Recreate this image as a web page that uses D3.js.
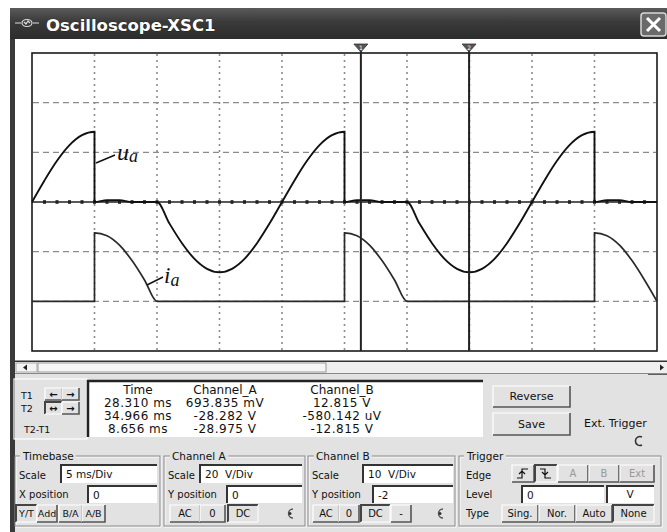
<!DOCTYPE html>
<html>
<head>
<meta charset="utf-8">
<script src="https://cdn.jsdelivr.net/npm/d3@7"></script>
<style>
  html, body { margin: 0; padding: 0; background: #fff; }
  svg { display: block; }
</style>
</head>
<body>
<svg id="scope" width="667" height="532" font-family="DejaVu Sans, sans-serif"></svg>
<script>
// Oscilloscope-XSC1 capture: u_a (channel A) and i_a (channel B)

// time samples in ms (repeated time = vertical jump)
const tMs = [0, 1, 2, 3, 4, 5, 5, 6, 7, 8, 9, 10, 11, 12, 13, 14, 15, 16, 17, 18, 19, 20,
  21, 22, 23, 24, 25, 25, 26, 27, 28, 29, 30, 31, 32, 33, 34, 35, 36, 37, 38, 39, 40,
  41, 42, 43, 44, 45, 45, 46, 47, 48, 49, 50];
// channel A, volts
const uaVolts = [0, 8.7, 16.6, 22.9, 26.9, 28.3, 0, 0.7, 0.7, 0, 0, 0, -8.7, -16.6, -22.9, -26.9, -28.3, -26.9, -22.9, -16.6, -8.7, 0,
  8.7, 16.6, 22.9, 26.9, 28.3, 0, 0.7, 0.7, 0, 0, 0, -8.7, -16.6, -22.9, -26.9, -28.3, -26.9, -22.9, -16.6, -8.7, 0,
  8.7, 16.6, 22.9, 26.9, 28.3, 0, 0.7, 0.7, 0, 0, 0];
// channel B, volts
const iaVolts = [0, 0, 0, 0, 0, 0, 13.8, 13.2, 11.3, 8.2, 4.3, 0, 0, 0, 0, 0, 0, 0, 0, 0, 0, 0,
  0, 0, 0, 0, 0, 13.8, 13.2, 11.3, 8.2, 4.3, 0, 0, 0, 0, 0, 0, 0, 0, 0, 0, 0,
  0, 0, 0, 0, 0, 13.8, 13.2, 11.3, 8.2, 4.3, 0];

const timeDivMs = 5, timeDivs = 10;
const chADiv = 20, chBDiv = 10, chBPos = -2, vDivs = 6;
const cursorMs = [26.310, 34.966];

const readoutHead = ["Time", "Channel_A", "Channel_B"];
const readoutRows = [
  ["28.310 ms", "693.835 mV", "12.815 V"],
  ["34.966 ms", "-28.282 V", "-580.142 uV"],
  ["8.656 ms", "-28.975 V", "-12.815 V"]
];

const svg = d3.select("#scope");
const W = 667, H = 532;
const panel = "#e2e2e2";
const serif = "Liberation Serif, DejaVu Serif, serif";

// ---------- window chrome ----------
svg.append("rect").attr("width", W).attr("height", H).attr("fill", "#fff");
svg.append("rect").attr("x", 10).attr("y", 8).attr("width", W - 10).attr("height", H - 8).attr("fill", panel);

const defs = svg.append("defs");
const tg = defs.append("linearGradient").attr("id", "titleGrad").attr("x1", 0).attr("y1", 0).attr("x2", 0).attr("y2", 1);
tg.append("stop").attr("offset", "0%").attr("stop-color", "#5a5a5a");
tg.append("stop").attr("offset", "45%").attr("stop-color", "#3a3a3a");
tg.append("stop").attr("offset", "100%").attr("stop-color", "#2c2c2c");

svg.append("rect").attr("x", 10).attr("y", 8).attr("width", W - 10).attr("height", 31).attr("fill", "url(#titleGrad)");
svg.append("rect").attr("x", 10).attr("y", 39).attr("width", 5).attr("height", H - 39).attr("fill", "#3a3a3a");

// title icon (little probe glyph)
const icon = svg.append("g").attr("transform", "translate(27,23)").attr("stroke", "#ddd").attr("fill", "none").attr("stroke-width", 1.2);
icon.append("ellipse").attr("rx", 5).attr("ry", 3.5);
icon.append("path").attr("d", "M-12,0 H-6 M6,0 H12 M-3,-1 l2,2 l2,-3 l2,2");

svg.append("text").attr("x", 46).attr("y", 31)
  .attr("fill", "#fff").attr("font-size", 16.5).attr("font-weight", "bold")
  .attr("stroke", "#111").attr("stroke-width", 0.6).attr("paint-order", "stroke")
  .text("Oscilloscope-XSC1");

// close button
const cb = svg.append("g");
cb.append("rect").attr("x", 641).attr("y", 13).attr("width", 25).attr("height", 23).attr("rx", 3)
  .attr("fill", "#6a6a6a").attr("stroke", "#d8d8d8").attr("stroke-width", 1.5);
cb.append("path").attr("d", "M647,18 L660,31 M660,18 L647,31").attr("stroke", "#fff").attr("stroke-width", 3);

// screen background
svg.append("rect").attr("x", 15).attr("y", 39).attr("width", W - 15).attr("height", 323).attr("fill", "#fff");

// ---------- plot ----------
const x = d3.scaleLinear().domain([0, timeDivMs * timeDivs]).range([32, 657]);
const yA = d3.scaleLinear().domain([-chADiv * vDivs / 2, chADiv * vDivs / 2]).range([351, 53]);
const bMid = -chBPos * chBDiv;
const yB = d3.scaleLinear().domain([bMid - chBDiv * vDivs / 2, bMid + chBDiv * vDivs / 2]).range([351, 53]);

const grid = svg.append("g");
grid.selectAll("line.v").data(d3.range(1, timeDivs).map(i => i * timeDivMs)).join("line")
  .attr("class", "v")
  .attr("x1", d => x(d)).attr("x2", d => x(d)).attr("y1", 54).attr("y2", 350)
  .attr("stroke", "#8c8c8c").attr("stroke-width", 1.6).attr("stroke-dasharray", "2,4");
grid.selectAll("line.h").data([-2, -1, 1, 2].map(i => i * chADiv)).join("line")
  .attr("class", "h")
  .attr("x1", 33).attr("x2", 656).attr("y1", d => yA(d)).attr("y2", d => yA(d))
  .attr("stroke", "#8c8c8c").attr("stroke-width", 1.3).attr("stroke-dasharray", "6,4");

// centre axis with minor ticks
grid.append("line").attr("x1", 32).attr("x2", 657).attr("y1", yA(0)).attr("y2", yA(0))
  .attr("stroke", "#222").attr("stroke-width", 1.6);
grid.selectAll("rect.tick").data(d3.range(1, timeDivs * 5)).join("rect")
  .attr("class", "tick")
  .attr("x", d => x(d) - 1.5).attr("y", yA(0) - 1.8).attr("width", 3).attr("height", 3.6)
  .attr("fill", "#222");

svg.append("rect").attr("x", 32).attr("y", 53).attr("width", 625).attr("height", 298)
  .attr("fill", "none").attr("stroke", "#1a1a1a").attr("stroke-width", 1.6);

// traces
const lineA = d3.line().x((d, i) => x(tMs[i])).y(d => yA(d)).curve(d3.curveMonotoneX);
const lineB = d3.line().x((d, i) => x(tMs[i])).y(d => yB(d)).curve(d3.curveMonotoneX);

svg.append("path").datum(iaVolts).attr("d", lineB)
  .attr("fill", "none").attr("stroke", "#2a2a2a").attr("stroke-width", 1.7);
svg.append("path").datum(uaVolts).attr("d", lineA)
  .attr("fill", "none").attr("stroke", "#111").attr("stroke-width", 1.9);

// cursors
const cur = svg.append("g").selectAll("g").data(cursorMs).join("g");
cur.append("line").attr("x1", d => x(d)).attr("x2", d => x(d)).attr("y1", 44).attr("y2", 351)
  .attr("stroke", "#222").attr("stroke-width", 2);
cur.append("path").attr("d", d => `M${x(d) - 7},44 L${x(d) + 7},44 L${x(d)},52 Z`)
  .attr("fill", "#555").attr("stroke", "#333").attr("stroke-width", 0.8);
cur.append("text").attr("x", d => x(d)).attr("y", 50).attr("text-anchor", "middle")
  .attr("font-size", 6).attr("fill", "#fff").text((d, i) => i + 1);

// trace labels
svg.append("line").attr("x1", 96).attr("y1", 163).attr("x2", 115).attr("y2", 155).attr("stroke", "#111").attr("stroke-width", 1.4);
const ua = svg.append("text").attr("x", 117).attr("y", 160).attr("font-size", 24)
  .attr("font-family", serif).attr("font-style", "italic").attr("fill", "#111");
ua.append("tspan").text("u");
ua.append("tspan").attr("font-size", 18).attr("dy", 2).text("a");
svg.append("line").attr("x1", 147).attr("y1", 285).attr("x2", 163).attr("y2", 277).attr("stroke", "#111").attr("stroke-width", 1.4);
const ia = svg.append("text").attr("x", 164).attr("y", 283).attr("font-size", 23)
  .attr("font-family", serif).attr("font-style", "italic").attr("fill", "#111");
ia.append("tspan").text("i");
ia.append("tspan").attr("font-size", 18).attr("dy", 3).text("a");

// ---------- scrollbar ----------
svg.append("line").attr("x1", 15).attr("x2", W).attr("y1", 361.5).attr("y2", 361.5).attr("stroke", "#333").attr("stroke-width", 2);
svg.append("rect").attr("x", 15).attr("y", 362).attr("width", W - 15).attr("height", 11).attr("fill", "#efefef");
svg.append("rect").attr("x", 38).attr("y", 363).attr("width", 288).attr("height", 9).attr("fill", "#f6f6f6")
  .attr("stroke", "#999").attr("stroke-width", 1);
svg.append("rect").attr("x", 16).attr("y", 363).attr("width", 21).attr("height", 9).attr("fill", "#f4f4f4")
  .attr("stroke", "#aaa").attr("stroke-width", 1);
svg.append("path").attr("d", "M23,367.5 l4,-3 v6 z").attr("fill", "#222");
svg.append("path").attr("d", "M664,367.5 l-4,-3 v6 z").attr("fill", "#222");
svg.append("line").attr("x1", 648).attr("x2", W).attr("y1", 374).attr("y2", 374).attr("stroke", "#333").attr("stroke-width", 1.5);
svg.append("line").attr("x1", 15).attr("x2", W).attr("y1", 373.5).attr("y2", 373.5).attr("stroke", "#888").attr("stroke-width", 1);

// ---------- widgets ----------
function bevel(g, x0, y0, w, h, sunken) {
  const hi = sunken ? "#444" : "#fff", lo = sunken ? "#fff" : "#555";
  g.append("path").attr("d", `M${x0},${y0 + h} V${y0} H${x0 + w}`).attr("fill", "none").attr("stroke", hi).attr("stroke-width", sunken ? 2 : 1.2);
  g.append("path").attr("d", `M${x0},${y0 + h} H${x0 + w} V${y0}`).attr("fill", "none").attr("stroke", lo).attr("stroke-width", sunken ? 1 : 1.6);
}
function button(x0, y0, w, h, label, sunken, size, weight) {
  const g = svg.append("g");
  g.append("rect").attr("x", x0).attr("y", y0).attr("width", w).attr("height", h).attr("fill", panel);
  bevel(g, x0, y0, w, h, sunken);
  if (label) {
    g.append("text").attr("x", x0 + w / 2).attr("y", y0 + h / 2 + 3.6).attr("text-anchor", "middle")
      .attr("font-size", size || 10).attr("font-weight", weight || "normal").attr("fill", "#111").text(label);
  }
  return g;
}
function input(x0, y0, w, h, value) {
  const g = svg.append("g");
  g.append("rect").attr("x", x0).attr("y", y0).attr("width", w).attr("height", h).attr("fill", "#fff");
  g.append("path").attr("d", `M${x0},${y0 + h} V${y0} H${x0 + w}`).attr("fill", "none").attr("stroke", "#333").attr("stroke-width", 2);
  if (value) {
    g.append("text").attr("x", x0 + 5).attr("y", y0 + h / 2 + 4).attr("font-size", 10.5).attr("fill", "#111").attr("xml:space", "preserve").text(value);
  }
}
function label(x0, y0, s, size) {
  svg.append("text").attr("x", x0).attr("y", y0).attr("font-size", size || 10.5).attr("fill", "#111").text(s);
}
function groupBox(x0, y0, w, h, title) {
  const g = svg.append("g").attr("fill", "none");
  g.append("rect").attr("x", x0 + 1).attr("y", y0 + 1).attr("width", w).attr("height", h).attr("stroke", "#fff");
  g.append("rect").attr("x", x0).attr("y", y0).attr("width", w).attr("height", h).attr("stroke", "#8a8a8a");
  const t = g.append("text").attr("x", x0 + 8).attr("y", y0 + 4).attr("font-size", 10.5).attr("fill", "#111").text(title);
  const bb = t.node().getBBox();
  g.insert("rect", "text").attr("x", bb.x - 2).attr("y", bb.y).attr("width", bb.width + 4).attr("height", bb.height).attr("fill", panel);
}

// T1 / T2 block
svg.append("rect").attr("x", 14).attr("y", 379).attr("width", 73).attr("height", 60).attr("fill", "none").attr("stroke", "#fff").attr("stroke-width", 1.2);
label(21, 399, "T1", 9.5);
label(21, 412, "T2", 9.5);
label(24, 433, "T2-T1", 9.5);
button(45, 388, 17, 12, "\u2190", false, 10, "bold");
button(62, 388, 17, 12, "\u2192", false, 10, "bold");
button(45, 402, 17, 12, "\u2194", true, 10, "bold");
button(62, 402, 17, 12, "\u2192", false, 10, "bold");

// readout
svg.append("rect").attr("x", 88).attr("y", 381).attr("width", 395).attr("height", 56).attr("fill", "#fff");
svg.append("path").attr("d", "M88,437 V381 H483").attr("fill", "none").attr("stroke", "#222").attr("stroke-width", 2.5);
const colX = [138, 225, 342];
readoutHead.forEach((h, j) => {
  svg.append("text").attr("x", colX[j]).attr("y", 394).attr("text-anchor", "middle")
    .attr("font-size", 12).attr("fill", "#111").text(h);
});
readoutRows.forEach((row, i) => {
  row.forEach((v, j) => {
    svg.append("text").attr("x", colX[j]).attr("y", 407 + i * 13).attr("text-anchor", "middle")
      .attr("font-size", 12).attr("letter-spacing", 0.5).attr("fill", "#111").text(v);
  });
});

button(493, 386, 77, 21, "Reverse", false, 11);
button(493, 413, 77, 22, "Save", false, 11);
label(584, 427, "Ext. Trigger", 11);
svg.append("path").attr("d", "M642,437 A4.5,4.5 0 1 0 642,445").attr("fill", "none").attr("stroke", "#333").attr("stroke-width", 1.6);

// Timebase
groupBox(15, 456, 145, 70, "Timebase");
label(19, 479, "Scale", 10);
input(61, 465, 96, 18, "5 ms/Div");
label(19, 498, "X position", 10);
input(88, 486, 69, 17, "0");
button(16, 505, 21, 17, "Y/T", true, 9.5);
button(37, 505, 20, 17, "Add", false, 9.5);
button(59, 505, 23, 17, "B/A", false, 9.5);
button(82, 505, 23, 17, "A/B", false, 9.5);

// Channel A
groupBox(164, 456, 141, 70, "Channel A");
label(168, 479, "Scale", 10);
input(200, 465, 102, 18, "20  V/Div");
label(168, 498, "Y position", 10);
input(227, 486, 75, 17, "0");
button(170, 505, 30, 17, "AC", false);
button(200, 505, 25, 17, "0", false);
button(228, 505, 30, 17, "DC", true);
svg.append("path").attr("d", "M293,509 A4.5,4.5 0 1 0 293,518").attr("fill", "none").attr("stroke", "#555").attr("stroke-width", 1.4);
svg.append("circle").attr("cx", 290).attr("cy", 513.5).attr("r", 1.5).attr("fill", "#333");

// Channel B
groupBox(308, 456, 147, 70, "Channel B");
label(312, 479, "Scale", 10);
input(363, 465, 90, 18, "10  V/Div");
label(312, 498, "Y position", 10);
input(373, 486, 80, 17, "-2");
button(313, 505, 26, 17, "AC", false);
button(339, 505, 20, 17, "0", false);
button(361, 505, 29, 17, "DC", true);
button(391, 505, 20, 17, "-", false);
svg.append("path").attr("d", "M443,509 A4.5,4.5 0 1 0 443,518").attr("fill", "none").attr("stroke", "#555").attr("stroke-width", 1.4);
svg.append("circle").attr("cx", 440).attr("cy", 513.5).attr("r", 1.5).attr("fill", "#333");

// Trigger
groupBox(459, 456, 202, 70, "Trigger");
label(466, 479, "Edge", 10);
button(512, 465, 22, 17, "", false);
svg.append("path").attr("d", "M517,478 H522 V469 H528 M519,474 l3,-3 l3,3").attr("fill", "none").attr("stroke", "#111").attr("stroke-width", 1.2);
button(535, 465, 22, 17, "", true);
svg.append("path").attr("d", "M540,469 H545 V478 H551 M542,472 l3,3 l3,-3").attr("fill", "none").attr("stroke", "#111").attr("stroke-width", 1.2);
button(558, 465, 30, 17, "A", false).select("text").attr("fill", "#999");
button(589, 465, 30, 17, "B", false).select("text").attr("fill", "#999");
button(620, 465, 34, 17, "Ext", false).select("text").attr("fill", "#999");
label(466, 498, "Level", 10);
input(522, 486, 82, 17, "0");
input(607, 486, 47, 17, "");
svg.append("text").attr("x", 630).attr("y", 498).attr("text-anchor", "middle").attr("font-size", 10.5).attr("fill", "#111").text("V");
label(466, 517, "Type", 10);
button(502, 505, 36, 17, "Sing.", false);
button(539, 505, 36, 17, "Nor.", false);
button(576, 505, 36, 17, "Auto", false);
button(613, 505, 41, 17, "None", true);
</script>
</body>
</html>
